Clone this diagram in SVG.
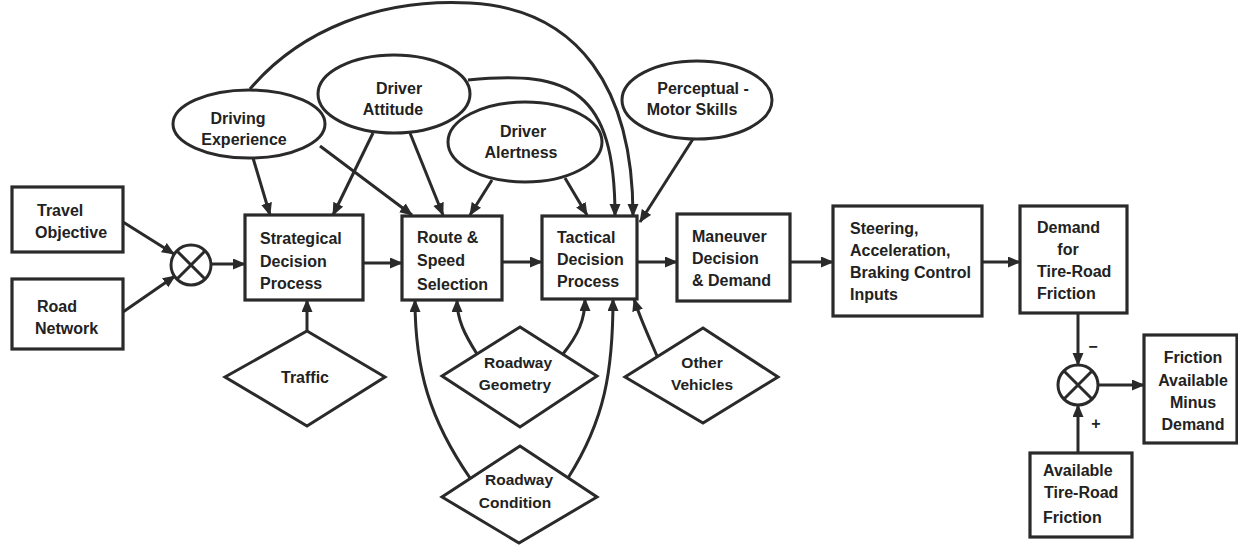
<svg xmlns="http://www.w3.org/2000/svg" width="1238" height="546" viewBox="0 0 1238 546">
<defs>
<style>
.box{fill:#fff;stroke:#2a2a2a;stroke-width:3.2}
.shp{fill:#fff;stroke:#2a2a2a;stroke-width:3}
.ln{fill:none;stroke:#2a2a2a;stroke-width:3;marker-end:url(#ah)}
.xl{stroke:#2a2a2a;stroke-width:3}
text{font-family:"Liberation Sans",Arial,sans-serif;font-size:16px;font-weight:bold;fill:#222}
.m{text-anchor:middle}
.d{font-size:15.5px}
</style>
<marker id="ah" markerUnits="userSpaceOnUse" markerWidth="14" markerHeight="12" refX="12" refY="5.5" orient="auto">
<path d="M0,0 L13,5.5 L0,11 z" fill="#2a2a2a"/>
</marker>
</defs>
<rect width="1238" height="546" fill="#fff"/>

<g id="connectors">
<path class="ln" d="M123,222 L174,254"/>
<path class="ln" d="M123,312 L175,276"/>
<path class="ln" d="M211,264 L245,264"/>
<path class="ln" d="M363,263 L402,263"/>
<path class="ln" d="M502,262 L542,262"/>
<path class="ln" d="M637,262 L677,262"/>
<path class="ln" d="M790,262 L833,262"/>
<path class="ln" d="M982,262 L1020,262"/>
<path class="ln" d="M1078,313 L1078,365"/>
<path class="ln" d="M1078,453 L1078,405"/>
<path class="ln" d="M1098,385 L1144,385"/>
<path class="ln" d="M253,158 L270,215"/>
<path class="ln" d="M320,146 L412,215"/>
<path class="ln" d="M250,89 C300,30 380,-2 470,3 C580,9 633,90 633,216"/>
<path class="ln" d="M468,80 C570,70 615,90 615,216"/>
<path class="ln" d="M373,133 L333,215"/>
<path class="ln" d="M410,133 L443,215"/>
<path class="ln" d="M492,180 L470,215"/>
<path class="ln" d="M565,178 L587,215"/>
<path class="ln" d="M693,139 L640,222"/>
<path class="ln" d="M307,331 L307,300"/>
<path class="ln" d="M477,354 C465,335 457,320 457,300"/>
<path class="ln" d="M563,354 C578,335 585,320 585,299"/>
<path class="ln" d="M470,478 C430,420 415,370 415,300"/>
<path class="ln" d="M568,478 C605,420 613,370 613,299"/>
<path class="ln" d="M657,356 C648,335 640,318 634,299"/>
</g>

<g id="travel-objective">
<rect class="box" x="12" y="187" width="111" height="65"/>
<text x="37" y="216">Travel</text>
<text x="35" y="238">Objective</text>
</g>
<g id="road-network">
<rect class="box" x="12" y="279" width="111" height="70"/>
<text x="37" y="312">Road</text>
<text x="35" y="334">Network</text>
</g>
<g id="sum1">
<circle class="shp" cx="191" cy="265" r="20"/>
<path class="xl" d="M177,251 L205,279 M205,251 L177,279"/>
</g>
<g id="strategical">
<rect class="box" x="245" y="215" width="118" height="85"/>
<text x="260" y="244">Strategical</text>
<text x="260" y="267">Decision</text>
<text x="260" y="289">Process</text>
</g>
<g id="route-speed">
<rect class="box" x="402" y="216" width="100" height="84"/>
<text x="417" y="243">Route &amp;</text>
<text x="417" y="266">Speed</text>
<text x="417" y="290">Selection</text>
</g>
<g id="tactical">
<rect class="box" x="542" y="216" width="95" height="83"/>
<text x="557" y="243">Tactical</text>
<text x="557" y="265">Decision</text>
<text x="557" y="287">Process</text>
</g>
<g id="maneuver">
<rect class="box" x="677" y="214" width="113" height="87"/>
<text x="692" y="242">Maneuver</text>
<text x="692" y="264">Decision</text>
<text x="692" y="286">&amp; Demand</text>
</g>
<g id="steering">
<rect class="box" x="833" y="206" width="149" height="110"/>
<text x="850" y="234">Steering,</text>
<text x="850" y="256">Acceleration,</text>
<text x="850" y="278">Braking Control</text>
<text x="850" y="300">Inputs</text>
</g>
<g id="demand">
<rect class="box" x="1020" y="206" width="107" height="107"/>
<text x="1037" y="233">Demand</text>
<text x="1068" y="255" class="m">for</text>
<text x="1037" y="277">Tire-Road</text>
<text x="1037" y="299">Friction</text>
</g>
<g id="sum2">
<circle class="shp" cx="1078" cy="385" r="20"/>
<path class="xl" d="M1064,371 L1092,399 M1092,371 L1064,399"/>
<text x="1093" y="352" class="m">−</text>
<text x="1096" y="429" class="m">+</text>
</g>
<g id="friction-available-minus-demand">
<rect class="box" x="1144" y="335" width="93" height="108"/>
<text x="1193" y="363" class="m">Friction</text>
<text x="1193" y="386" class="m">Available</text>
<text x="1193" y="408" class="m">Minus</text>
<text x="1193" y="430" class="m">Demand</text>
</g>
<g id="available-friction">
<rect class="box" x="1030" y="453" width="102" height="84"/>
<text x="1043" y="476">Available</text>
<text x="1044" y="498">Tire-Road</text>
<text x="1043" y="523">Friction</text>
</g>

<g id="driving-experience">
<ellipse class="shp" cx="249" cy="124" rx="76" ry="34"/>
<text x="238" y="124" class="m">Driving</text>
<text x="244" y="145" class="m">Experience</text>
</g>
<g id="driver-attitude">
<ellipse class="shp" cx="394" cy="94" rx="76" ry="39"/>
<text x="399" y="94" class="m">Driver</text>
<text x="393" y="115" class="m">Attitude</text>
</g>
<g id="driver-alertness">
<ellipse class="shp" cx="525" cy="142" rx="77" ry="40"/>
<text x="523" y="137" class="m">Driver</text>
<text x="521" y="158" class="m">Alertness</text>
</g>
<g id="perceptual-motor">
<ellipse class="shp" cx="697" cy="100" rx="75" ry="39"/>
<text x="703" y="94" class="m">Perceptual -</text>
<text x="692" y="115" class="m">Motor Skills</text>
</g>

<g id="traffic">
<path class="shp" d="M307,331 L385,377 L307,426 L225,377 Z"/>
<text x="305" y="383" class="m">Traffic</text>
</g>
<g id="roadway-geometry">
<path class="shp" d="M520,327 L597,376 L520,427 L442,376 Z"/>
<text x="518" y="368" class="m d">Roadway</text>
<text x="515" y="390" class="m d">Geometry</text>
</g>
<g id="roadway-condition">
<path class="shp" d="M520,446 L597,497 L519,543 L442,497 Z"/>
<text x="519" y="485" class="m d">Roadway</text>
<text x="515" y="508" class="m d">Condition</text>
</g>
<g id="other-vehicles">
<path class="shp" d="M703,328 L778,377 L703,423 L625,377 Z"/>
<text x="702" y="368" class="m d">Other</text>
<text x="702" y="390" class="m d">Vehicles</text>
</g>
</svg>
